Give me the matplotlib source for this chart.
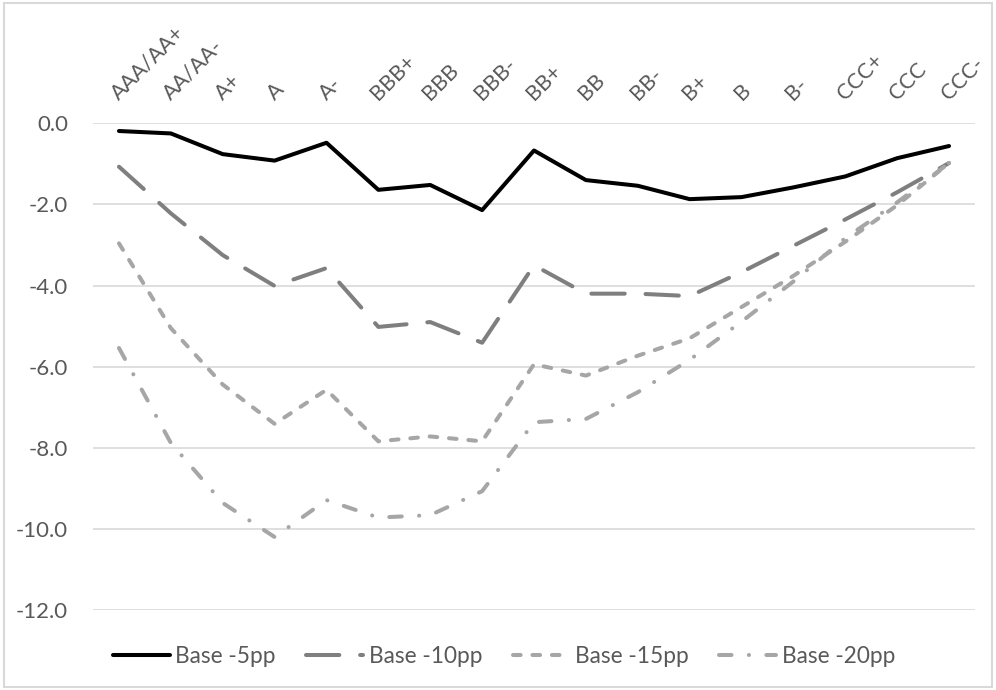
import matplotlib
matplotlib.use("Agg")
import matplotlib.pyplot as plt
from matplotlib.ticker import FuncFormatter

plt.rcParams['font.family'] = ['Lato', 'DejaVu Sans']
plt.rcParams['axes.unicode_minus'] = False
plt.rcParams['lines.scale_dashes'] = False

ratings = ["AAA/AA+", "AA/AA-", "A+", "A", "A-", "BBB+", "BBB", "BBB-",
           "BB+", "BB", "BB-", "B+", "B", "B-", "CCC+", "CCC", "CCC-"]

base_5pp = [-0.19, -0.25, -0.76, -0.92, -0.48, -1.64, -1.52, -2.14,
            -0.67, -1.40, -1.54, -1.87, -1.82, -1.58, -1.31, -0.86, -0.56]
base_10pp = [-1.07, -2.22, -3.25, -4.01, -3.57, -5.02, -4.90, -5.41,
             -3.50, -4.20, -4.20, -4.26, -3.67, -3.02, -2.37, -1.70, -0.98]
base_15pp = [-2.96, -5.05, -6.44, -7.41, -6.57, -7.84, -7.72, -7.84,
             -5.94, -6.22, -5.73, -5.30, -4.53, -3.76, -2.92, -2.02, -0.98]
base_20pp = [-5.54, -7.88, -9.36, -10.20, -9.29, -9.72, -9.66, -9.07,
             -7.37, -7.29, -6.63, -5.83, -4.89, -3.90, -2.83, -1.95, -0.98]

series_labels = ["Base -5pp", "Base -10pp", "Base -15pp", "Base -20pp"]
y_ticks = [0.0, -2.0, -4.0, -6.0, -8.0, -10.0, -12.0]

text_color = "#595959"
grid_color = "#d9d9d9"

fig = plt.figure(figsize=(9.96, 6.9), dpi=100)
ax = fig.add_axes([0.0934, 0.1159, 0.8855, 0.7054])

x = list(range(len(ratings)))
lw = 2.9
common = dict(linewidth=lw, solid_capstyle='round', dash_capstyle='round',
              solid_joinstyle='round', dash_joinstyle='round')

ax.plot(x, base_5pp, color="#000000", linestyle='-', label=series_labels[0], **common)
ax.plot(x, base_10pp, color="#7f7f7f", linestyle=(0, (24, 15)), label=series_labels[1], **common)
ax.plot(x, base_15pp, color="#a6a6a6", linestyle=(0, (5.5, 8.5)), label=series_labels[2], **common)
ax.plot(x, base_20pp, color="#a6a6a6", linestyle=(0, (9, 12.5, 0.1, 12.5)), label=series_labels[3], **common)

ax.set_xlim(-0.5, len(ratings) - 0.5)
ax.set_ylim(-12, 0)
ax.set_yticks(y_ticks)
ax.yaxis.set_major_formatter(FuncFormatter(lambda v, p: f"{v:.1f}"))
ax.grid(axis='y', color=grid_color, linewidth=1.2)
ax.set_axisbelow(True)
for s in ax.spines.values():
    s.set_visible(False)

ax.xaxis.tick_top()
ax.set_xticks(x)
ax.set_xticklabels(ratings, rotation=45, ha='left', va='baseline',
                   rotation_mode='anchor', fontsize=15.5, color=text_color)
ax.tick_params(axis='x', length=0, pad=16)
ax.tick_params(axis='y', length=0, pad=18, labelsize=16, labelcolor=text_color)

handles, labels = ax.get_legend_handles_labels()
leg = fig.legend(handles, labels, loc='center', bbox_to_anchor=(0.506, 0.048), ncol=4,
                 frameon=False, fontsize=16.3, handlelength=2.5, columnspacing=1.35,
                 handletextpad=0.25)
for t in leg.get_texts():
    t.set_color(text_color)

# outer chart border
fig.patches.append(plt.Rectangle((0.004, 0.005), 0.992, 0.99, transform=fig.transFigure,
                                 fill=False, edgecolor=grid_color, linewidth=1.5))

fig.savefig("out.png", dpi=100)
